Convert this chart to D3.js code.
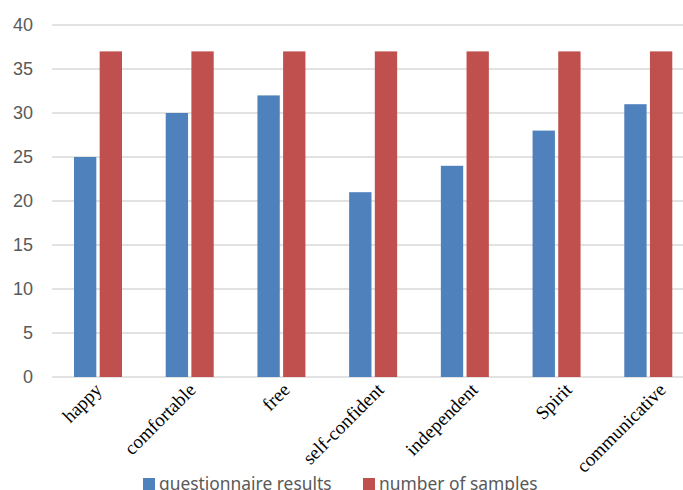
<!DOCTYPE html>
<html>
<head>
<meta charset="utf-8">
<script src="https://cdn.jsdelivr.net/npm/d3@7"></script>
<style>
  body { margin: 0; background: #fff; }
  svg { display: block; }
</style>
</head>
<body>
<svg id="chart" width="683" height="490"></svg>
<script>
// data
const categories = ['happy', 'comfortable', 'free', 'self-confident', 'independent', 'Spirit', 'communicative'];
const seriesNames = ['questionnaire results', 'number of samples'];
const questionnaire = [25, 30, 32, 21, 24, 28, 31];
const samples = [37, 37, 37, 37, 37, 37, 37];
const yTicks = [0, 5, 10, 15, 20, 25, 30, 35, 40];
const colors = ['#4f81bd', '#c0504d'];

const width = 683, height = 490;
const svg = d3.select('#chart');

// plot area runs past the right edge of the window, as in the reference
const x = d3.scaleBand().domain(categories).range([52, 694]).paddingInner(0).paddingOuter(0);
const x1 = d3.scaleBand().domain(seriesNames).range([22, 70]).paddingInner(0.13);
const y = d3.scaleLinear().domain([0, 40]).range([377, 25]);
// category labels drift slightly right of their bars in the reference
const xLabel = d3.scalePoint().domain(categories).range([103, 667]);

// gridlines
svg.append('g')
    .selectAll('line')
    .data(yTicks)
    .join('line')
    .attr('x1', 52)
    .attr('x2', width)
    .attr('y1', d => y(d))
    .attr('y2', d => y(d))
    .attr('stroke', '#d9d9d9')
    .attr('stroke-width', 1.3);

// y tick labels
svg.append('g')
    .selectAll('text')
    .data(yTicks)
    .join('text')
    .attr('x', 33)
    .attr('y', d => y(d))
    .attr('dy', '0.35em')
    .attr('text-anchor', 'end')
    .attr('font-family', '"Liberation Sans", Arial, sans-serif')
    .attr('font-size', 18)
    .attr('fill', '#595959')
    .text(d => d);

// bars
let rows = categories.map((c, i) => ({ cat: c, values: [questionnaire[i], samples[i]] }));

svg.append('g')
    .selectAll('g')
    .data(rows)
    .join('g')
    .attr('transform', d => `translate(${x(d.cat)},0)`)
    .selectAll('rect')
    .data(d => d.values.map((v, k) => ({ name: seriesNames[k], value: v, k: k })))
    .join('rect')
    .attr('x', d => x1(d.name))
    .attr('width', x1.bandwidth())
    .attr('y', d => y(d.value))
    .attr('height', d => y(0) - y(d.value))
    .attr('fill', d => colors[d.k]);

// rotated category labels
svg.append('g')
    .selectAll('text')
    .data(categories)
    .join('text')
    .attr('transform', d => `translate(${xLabel(d)},${391}) rotate(-45)`)
    .attr('text-anchor', 'end')
    .attr('font-family', '"Liberation Serif", "Times New Roman", serif')
    .attr('font-size', 19)
    .attr('fill', '#000')
    .text(d => d);

// legend
const legendItems = [
    { name: seriesNames[0], color: colors[0], x: 143 },
    { name: seriesNames[1], color: colors[1], x: 363 }
];
const lg = svg.append('g')
    .selectAll('g')
    .data(legendItems)
    .join('g')
    .attr('transform', d => `translate(${d.x},478)`);
lg.append('rect')
    .attr('width', 12)
    .attr('height', 12)
    .attr('fill', d => d.color);
lg.append('text')
    .attr('x', 16)
    .attr('y', 12)
    .attr('font-family', '"Noto Sans", "Open Sans", sans-serif')
    .attr('font-size', 17.4)
    .attr('fill', '#595959')
    .text(d => d.name);
</script>
</body>
</html>
